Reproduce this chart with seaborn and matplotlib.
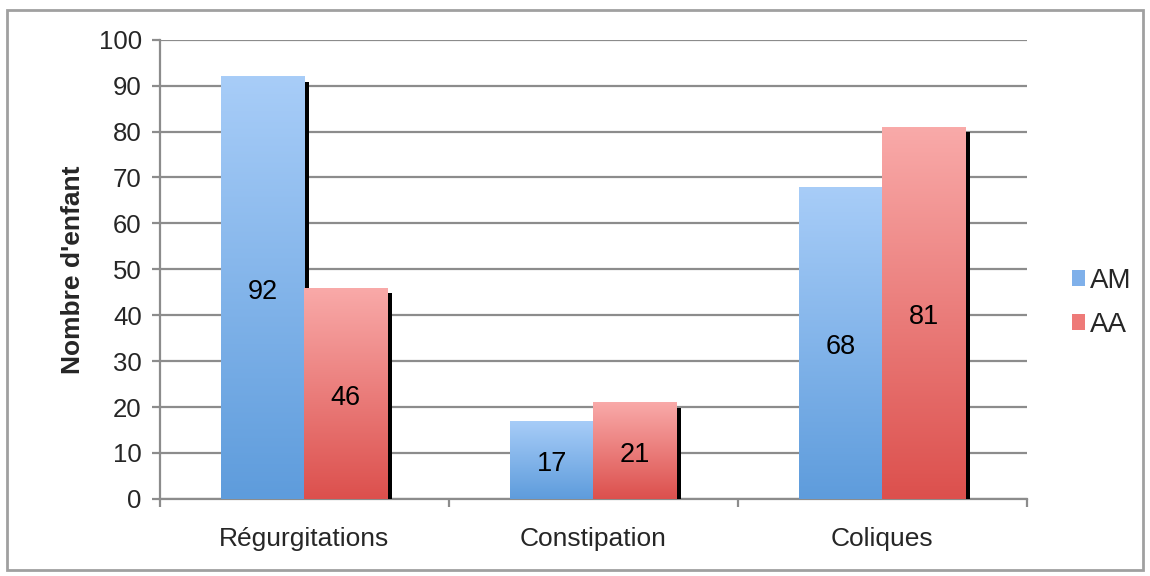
import numpy as np
import pandas as pd
import matplotlib.pyplot as plt
import matplotlib.patches as mpatches
from matplotlib.colors import LinearSegmentedColormap
import seaborn as sns

# données
categories = ['Régurgitations', 'Constipation', 'Coliques']
series = ['AM', 'AA']
am_values = [92, 17, 68]
aa_values = [46, 21, 81]

df = pd.DataFrame({
    'categorie': categories * 2,
    'groupe': ['AM'] * 3 + ['AA'] * 3,
    'valeur': am_values + aa_values,
})

sns.set_style('white')
plt.rcParams['font.family'] = ['Liberation Sans', 'DejaVu Sans']

fig = plt.figure(figsize=(11.5, 5.76), dpi=100)
ax = fig.add_axes([0.139, 0.134, 0.754, 0.797])

# cadre extérieur
fig.patches.append(mpatches.Rectangle((0.006, 0.01), 0.988, 0.972, transform=fig.transFigure,
                                      fill=False, edgecolor='#a0a0a0', linewidth=2))

palette = {'AM': '#7fb0ea', 'AA': '#ee7a78'}
sns.barplot(data=df, x='categorie', y='valeur', hue='groupe', hue_order=series,
            order=categories, palette=palette, width=0.575, ax=ax, legend=False,
            saturation=1, linewidth=0, zorder=3)

grads = {
    'AM': LinearSegmentedColormap.from_list('am', ['#5e9cdc', '#a8cdf8']),
    'AA': LinearSegmentedColormap.from_list('aa', ['#dc504d', '#f9aaa9']),
}

ax.set_ylim(0, 100)
ax.set_xlim(-0.5, 2.5)

# dégradé + ombre noire à droite de chaque barre
for cont, name in zip(ax.containers, series):
    for bar, v in zip(cont, cont.datavalues):
        x0, w, h = bar.get_x(), bar.get_width(), bar.get_height()
        grad = np.linspace(0, 1, 256).reshape(-1, 1)
        im = ax.imshow(grad, cmap=grads[name], origin='lower', aspect='auto',
                       extent=(x0, x0 + w, 0, h), zorder=3)
        im.set_clip_path(bar)
        bar.set_alpha(0)
        ax.add_patch(mpatches.Rectangle((x0 + w, 0), 0.015, h - 1.2,
                                        facecolor='black', edgecolor='none', zorder=2.9))
        ax.text(x0 + w / 2, h / 2 - 1, f'{int(v)}', ha='center', va='center',
                fontsize=19.5, color='black', zorder=5)

ax.set_yticks(range(0, 101, 10))
ax.yaxis.grid(True, color='#8c8c8c', linewidth=1.6, zorder=0)
ax.set_axisbelow(True)
for s in ['top', 'right']:
    ax.spines[s].set_visible(False)
for s in ['left', 'bottom']:
    ax.spines[s].set_color('#8c8c8c')
    ax.spines[s].set_linewidth(1.6)

ax.tick_params(axis='y', which='both', left=True, length=6, width=1.6, color='#8c8c8c',
               labelsize=18.5, pad=7)
ax.set_xticks(range(3))
ax.set_xticklabels(categories, fontsize=19)
ax.tick_params(axis='x', length=0, pad=20)
ax.set_xticks([-0.5, 0.5, 1.5, 2.5], minor=True)
ax.tick_params(axis='x', which='minor', bottom=True, length=6, width=1.6, color='#8c8c8c')

ax.set_xlabel('')
ax.set_ylabel("Nombre d'enfant", fontsize=19, fontweight='bold', labelpad=10)

handles = [mpatches.Patch(facecolor=palette[s], edgecolor='none') for s in series]
fig.legend(handles, series, loc='center left', bbox_to_anchor=(0.91, 0.474), frameon=False,
           fontsize=20, handlelength=0.5, handleheight=0.5, handletextpad=0.15, labelspacing=0.65)

fig.savefig('out.png', dpi=100)
